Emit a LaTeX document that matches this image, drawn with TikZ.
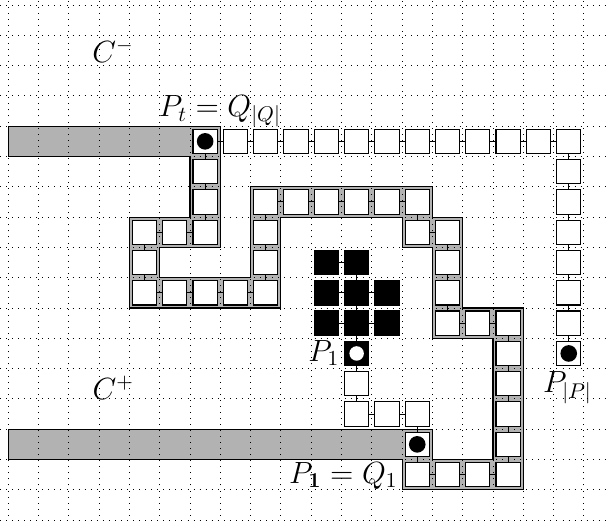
\documentclass[tikz,border=0pt]{standalone}
\usepackage{amsmath,amssymb}
\usepackage{xcolor}
\usepackage{tikz}

\begin{document}
\begin{tikzpicture}[
    x=0.5cm, y=0.5cm,
    font=\Large,
    cell/.style={rectangle, draw, fill=white, line width=0.5pt,
                 minimum size=0.4cm, inner sep=0pt},
    full/.style={cell, fill=black},
    endcell/.style={cell, path picture={\fill[black] (path picture bounding box.center) circle (3.9pt);}},
    hole/.style={full, path picture={\fill[white] (path picture bounding box.center) circle (3.4pt);}},
    link/.style={line width=0.5pt},
    channel/.style={fill=black!30, draw, line width=0.5pt},
    raster/.style={dash pattern=on 0.4pt off 2.44pt, line width=0.4pt, step=1},
]
\useasboundingbox (-0.27,-17.0) rectangle (19.73,0.165);

% Channel around Q
\filldraw[channel] (0,-15) -- (13,-15) -- (13,-16) -- (17,-16) -- (17,-10) -- (15,-10)
    -- (15,-7) -- (14,-7) -- (14,-6) -- (8,-6) -- (8,-9) -- (5,-9) -- (5,-8) -- (7,-8)
    -- (7,-4) -- (0,-4) -- (0,-5) -- (6,-5) -- (6,-7) -- (4,-7) -- (4,-10) -- (9,-10)
    -- (9,-7) -- (13,-7) -- (13,-8) -- (14,-8) -- (14,-11) -- (16,-11) -- (16,-15)
    -- (14,-15) -- (14,-14) -- (0,-14) -- cycle;

% Grid
\draw[raster] (-0.27,-17.05) grid (19.73,0.165);

% Path Q
\node[endcell] (q1) at (13.5,-14.5) {};
\foreach \c/\r [count=\i from 2] in {13/15,14/15,15/15,16/15,16/14,16/13,16/12,16/11,
    16/10,15/10,14/10,14/9,14/8,14/7,13/7,13/6,12/6,11/6,10/6,9/6,8/6,8/7,8/8,8/9,
    7/9,6/9,5/9,4/9,4/8,4/7,5/7,6/7,6/6,6/5}
  \node[cell] (q\i) at (\c+0.5,-\r-0.5) {};
\node[endcell] (q36) at (6.5,-4.5) {};

% Path P, upper part
\foreach \c [count=\i] in {7,...,18}
  \node[cell] (u\i) at (\c+0.5,-4.5) {};
\foreach \r [count=\i from 13] in {5,...,10}
  \node[cell] (u\i) at (18.5,-\r-0.5) {};
\node[endcell] (u19) at (18.5,-11.5) {};

% Path P, lower part
\foreach \c/\r [count=\i] in {13/13,12/13,11/13,11/12}
  \node[cell] (v\i) at (\c+0.5,-\r-0.5) {};
\node[hole] (v5) at (11.5,-11.5) {};

% Black block
\foreach \c/\r in {10/8,11/8,10/9,11/9,12/9,10/10,11/10,12/10}
  \node[full] (k\c-\r) at (\c+0.5,-\r-0.5) {};

% Links
\foreach \i [count=\j from 2] in {1,...,35}
  \draw[link] (q\i) -- (q\j);
\draw[link] (q36) -- (u1);
\foreach \i [count=\j from 2] in {1,...,18}
  \draw[link] (u\i) -- (u\j);
\draw[link] (q1) -- (v1);
\foreach \i [count=\j from 2] in {1,...,4}
  \draw[link] (v\i) -- (v\j);
\draw[link] (k10-8) -- (k11-8);
\draw[link] (k11-8) -- (k11-9);
\draw[link] (k10-9) -- (k11-9);
\draw[link] (k11-9) -- (k12-9);
\draw[link] (k11-9) -- (k11-10);
\draw[link] (k10-10) -- (k11-10);
\draw[link] (k11-10) -- (k12-10);
\draw[link] (k11-10) -- (v5);

% Labels
\node (cminus) at (3.46,-1.52) {$C^-$};
\node (cplus) at (3.47,-12.62) {$C^+$};
\node[anchor=base] (ptop) at (6.99,-3.68) {$P_t = Q_{|Q|}$};
\node[anchor=base] (pone) at (10.42,-11.75) {$P_1$};
\node[anchor=base] (plast) at (18.46,-12.8) {$P_{|P|}$};
\node[anchor=base] (pqone) at (11.06,-15.78) {$P_{\mathbf{1}} = Q_1$};

\end{tikzpicture}
\end{document}
